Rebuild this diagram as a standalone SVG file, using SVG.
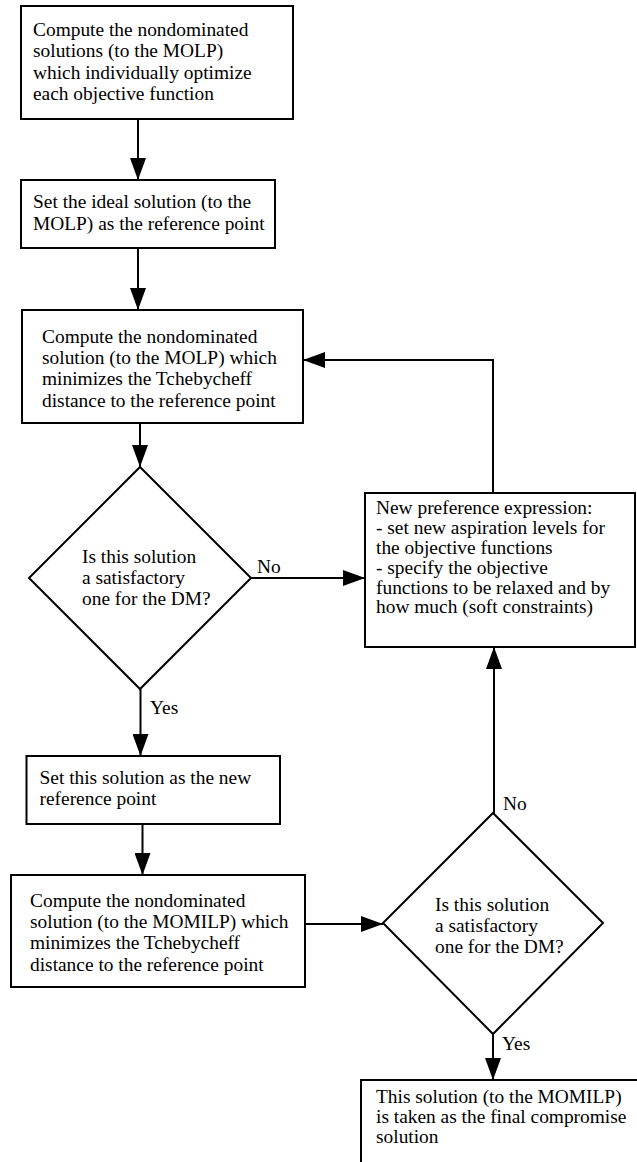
<svg xmlns="http://www.w3.org/2000/svg" width="637" height="1162" viewBox="0 0 637 1162">
<style>
.box{fill:#fff;stroke:#000;stroke-width:2}
.t{font-family:"Liberation Serif","Times New Roman",serif;font-size:19.4px;fill:#000}
.c{fill:none;stroke:#000;stroke-width:2}
</style>
<defs>
<marker id="ah" viewBox="0 0 22 16" markerWidth="22" markerHeight="16" refX="22" refY="8" orient="auto" markerUnits="userSpaceOnUse">
<path d="M0,0 L22,8 L0,16 z" fill="#000"/>
</marker>
</defs>
<rect width="637" height="1162" fill="#fff"/>
<g id="connectors">
<line class="c" x1="138" y1="119" x2="138" y2="180" marker-end="url(#ah)"/>
<line class="c" x1="138" y1="248" x2="138" y2="310" marker-end="url(#ah)"/>
<line class="c" x1="140" y1="423" x2="140" y2="467" marker-end="url(#ah)"/>
<line class="c" x1="251" y1="578" x2="365" y2="578" marker-end="url(#ah)"/>
<polyline class="c" points="493,493 493,360 303,360" marker-end="url(#ah)"/>
<line class="c" x1="140.5" y1="689" x2="140.5" y2="756" marker-end="url(#ah)"/>
<line class="c" x1="142.5" y1="824" x2="142.5" y2="875" marker-end="url(#ah)"/>
<line class="c" x1="305" y1="924" x2="383" y2="924" marker-end="url(#ah)"/>
<line class="c" x1="494" y1="814" x2="494" y2="647" marker-end="url(#ah)"/>
<line class="c" x1="493" y1="1034" x2="493" y2="1080" marker-end="url(#ah)"/>
<text class="t" x="257" y="573">No</text>
<text class="t" x="150" y="714">Yes</text>
<text class="t" x="503" y="810">No</text>
<text class="t" x="502" y="1050">Yes</text>
</g>
<g id="n1">
<rect class="box" x="21" y="6" width="272" height="113"/>
<text class="t" x="33" y="36">Compute the nondominated</text>
<text class="t" x="33" y="57">solutions (to the MOLP)</text>
<text class="t" x="33" y="79">which individually optimize</text>
<text class="t" x="33" y="100">each objective function</text>
</g>
<g id="n2">
<rect class="box" x="21" y="180" width="254" height="68"/>
<text class="t" x="33" y="208">Set the ideal solution (to the</text>
<text class="t" x="33" y="230">MOLP) as the reference point</text>
</g>
<g id="n3">
<rect class="box" x="22" y="310" width="281" height="113"/>
<text class="t" x="42" y="343">Compute the nondominated</text>
<text class="t" x="42" y="364">solution (to the MOLP) which</text>
<text class="t" x="42" y="385">minimizes the Tchebycheff</text>
<text class="t" x="42" y="407">distance to the reference point</text>
</g>
<g id="d1">
<polygon class="box" points="140,467 251,578 140,689 29,578"/>
<text class="t" x="82" y="563">Is this solution</text>
<text class="t" x="82" y="584">a satisfactory</text>
<text class="t" x="82" y="605">one for the DM?</text>
</g>
<g id="n4">
<rect class="box" x="365" y="493" width="270" height="154"/>
<text class="t" x="376" y="514">New preference expression:</text>
<text class="t" x="376" y="534">- set new aspiration levels for</text>
<text class="t" x="376" y="554">the objective functions</text>
<text class="t" x="376" y="574">- specify the objective</text>
<text class="t" x="376" y="594">functions to be relaxed and by</text>
<text class="t" x="376" y="613">how much (soft constraints)</text>
</g>
<g id="n5">
<rect class="box" x="26.5" y="756" width="253.5" height="68"/>
<text class="t" x="39.5" y="784">Set this solution as the new</text>
<text class="t" x="39.5" y="805">reference point</text>
</g>
<g id="n6">
<rect class="box" x="11" y="875" width="294" height="112"/>
<text class="t" x="30" y="907">Compute the nondominated</text>
<text class="t" x="30" y="928">solution (to the MOMILP) which</text>
<text class="t" x="30" y="949">minimizes the Tchebycheff</text>
<text class="t" x="30" y="971">distance to the reference point</text>
</g>
<g id="d2">
<polygon class="box" points="493,813 603,923 493,1034 383,923"/>
<text class="t" x="435" y="911">Is this solution</text>
<text class="t" x="435" y="932">a satisfactory</text>
<text class="t" x="435" y="953">one for the DM?</text>
</g>
<g id="n7">
<rect class="box" x="361" y="1080" width="290" height="100"/>
<text class="t" x="376" y="1103">This solution (to the MOMILP)</text>
<text class="t" x="376" y="1123">is taken as the final compromise</text>
<text class="t" x="376" y="1143">solution</text>
</g>
</svg>
